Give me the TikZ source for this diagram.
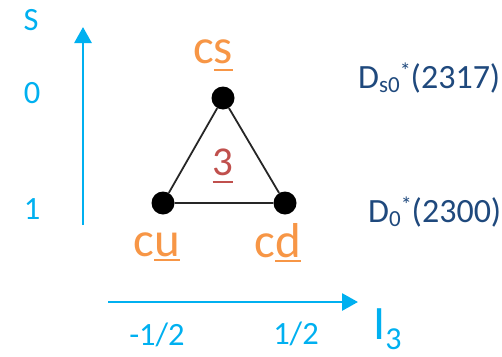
\documentclass[tikz,border=0pt]{standalone}
\usepackage{fontspec}
\setmainfont{Carlito}
\usetikzlibrary{arrows.meta}
\definecolor{axisblue}{HTML}{00B0F0}
\definecolor{qorange}{HTML}{F79646}
\definecolor{mesonblue}{HTML}{1F497D}
\definecolor{repred}{HTML}{C0504D}
\newcommand\myul[3]{\setbox0\hbox{#1}\rlap{\rule[-#2]{\wd0}{#3}}\box0}
\newcommand\mysubs[1]{\raisebox{-4pt}{\fontsize{23}{23}\selectfont #1}}
\newcommand\mysups[1]{\raisebox{10pt}{\fontsize{22}{22}\selectfont #1}}
\begin{document}
\begin{tikzpicture}[x=1pt,y=-1pt,
  axislbl/.style={text=axisblue,font=\fontsize{32.5}{32.5}\selectfont,inner sep=0pt,anchor=base},
  quark/.style={text=qorange,font=\fontsize{49}{49}\selectfont,inner sep=0pt,anchor=base},
  meson/.style={text=mesonblue,font=\fontsize{34}{34}\selectfont,inner sep=0pt,anchor=base west},
  dot/.style={circle,fill=black,inner sep=0pt,minimum size=23pt},
  edge/.style={draw=black!85,line width=1.8pt},
  axis/.style={draw=axisblue,line width=2.8pt,-{Triangle[length=16pt,width=17pt]}}]
\useasboundingbox (0,0) rectangle (502,356);
% axes
\coordinate (sbot) at (83,225);
\coordinate (stop) at (83,27);
\coordinate (ileft) at (108,302);
\coordinate (iright) at (358,302);
\draw[axis] (sbot) -- (stop);
\draw[axis] (ileft) -- (iright);
% axis labels
\node[axislbl] (S) at (31,30) {S};
\node[axislbl] (s0) at (32,103) {0};
\node[axislbl] (s1) at (32,219) {1};
\node[axislbl] (im) at (157,345) {-1/2};
\node[axislbl] (ip) at (296,344) {1/2};
\node[text=axisblue,inner sep=0pt,anchor=base west,font=\fontsize{48}{48}\selectfont] (I3) at (373,339) {I\raisebox{-10pt}{\fontsize{32}{32}\selectfont 3}};
% triangle
\node[dot] (cs) at (223,98) {};
\node[dot] (cu) at (163,203) {};
\node[dot] (cd) at (285,203) {};
\draw[edge] (cs) -- (cu) -- (cd) -- (cs);
% quark labels
\node[quark] (lcs) at (213,63) {c\myul{s}{8pt}{2pt}};
\node[quark] (lcu) at (157,256) {c\myul{u}{5pt}{2pt}};
\node[quark] (lcd) at (278,257) {c\myul{d}{5pt}{2pt}};
\node[text=repred,inner sep=0pt,anchor=base,font=\fontsize{41}{41}\selectfont] (three) at (223,175) {\myul{3}{8pt}{2.5pt}};
% meson labels
\node[meson] (ds) at (358,88) {D\mysubs{s0}\mysups{*}(2317)};
\node[meson] (d0) at (368,222) {D\mysubs{0}\mysups{*}(2300)};
\end{tikzpicture}
\end{document}
